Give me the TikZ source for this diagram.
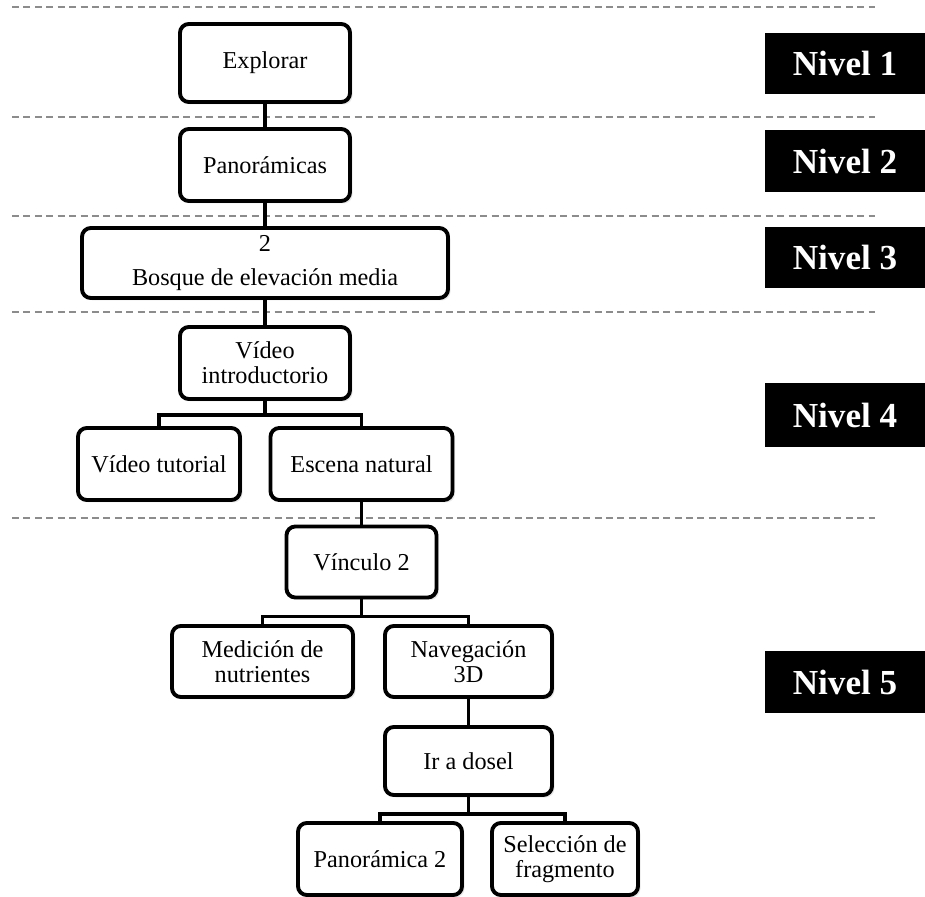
\documentclass[tikz,border=0pt]{standalone}
\usepackage{fontspec}
\setmainfont{Liberation Serif}
\usetikzlibrary{shadows}
\definecolor{RuleGray}{HTML}{8C8C8C}
\definecolor{TagBlack}{HTML}{000000}

\begin{document}
\begin{tikzpicture}[font=\fontsize{13.8}{14.2}\selectfont,
  menubox/.style={draw=black,line width=2.2pt,rounded corners=5pt,fill=white,
    align=center,inner sep=0pt,drop shadow={shadow xshift=0.05cm,shadow yshift=-0.05cm,opacity=0.18}},
  link/.style={line width=1.9pt},
  levelrule/.style={RuleGray,line width=0.6pt,dash pattern=on 4pt off 2.5pt},
  leveltag/.style={fill=TagBlack,text=white,inner sep=0pt,minimum width=3.2cm,
    font=\fontsize{20}{22}\selectfont\bfseries}]
\useasboundingbox (0,0) rectangle (18.5,17.92);
% level separators
\foreach \y in {17.78,15.58,13.60,11.68,7.56} {\draw[levelrule] (0.24,\y) -- (17.50,\y);}
% level tags
\node[leveltag,minimum height=1.22cm] (lvA) at (16.90,16.65) {Nivel 1};
\node[leveltag,minimum height=1.24cm] (lvB) at (16.90,14.70) {Nivel 2};
\node[leveltag,minimum height=1.22cm] (lvC) at (16.90,12.77) {Nivel 3};
\node[leveltag,minimum height=1.28cm] (lvD) at (16.90,9.62) {Nivel 4};
\node[leveltag,minimum height=1.24cm] (lvE) at (16.90,4.28) {Nivel 5};
% menu tree
\node[menubox,minimum width=3.40cm,minimum height=1.56cm] (explorar) at (5.30,16.66) {Explorar};
\node[menubox,minimum width=3.40cm,minimum height=1.44cm] (panoramicas) at (5.30,14.62) {Panorámicas};
\node[menubox,minimum width=7.32cm,minimum height=1.40cm] (bosque) at (5.30,12.66) {2\\[5pt]Bosque de elevación media};
\node[menubox,minimum width=3.40cm,minimum height=1.44cm] (intro) at (5.30,10.66) {Vídeo\\introductorio};
\node[menubox,minimum width=3.24cm,minimum height=1.44cm] (tutorial) at (3.18,8.64) {Vídeo tutorial};
\node[menubox,minimum width=3.64cm,minimum height=1.44cm] (escena) at (7.23,8.64) {Escena natural};
\node[menubox,minimum width=3.00cm,minimum height=1.42cm] (vinculo) at (7.23,6.68) {Vínculo 2};
\node[menubox,minimum width=3.62cm,minimum height=1.42cm] (medicion) at (5.25,4.69) {Medición de\\nutrientes};
\node[menubox,minimum width=3.34cm,minimum height=1.42cm] (navegacion) at (9.37,4.69) {Navegación\\3D};
\node[menubox,minimum width=3.34cm,minimum height=1.36cm] (dosel) at (9.37,2.70) {Ir a dosel};
\node[menubox,minimum width=3.28cm,minimum height=1.44cm] (pano2) at (7.60,0.74) {Panorámica 2};
\node[menubox,minimum width=2.92cm,minimum height=1.44cm] (fragmento) at (11.30,0.74) {Selección de\\fragmento};
% connectors
\draw[link] (explorar) -- (panoramicas);
\draw[link] (panoramicas) -- (bosque);
\draw[link] (bosque) -- (intro);
\draw[link] (intro.south) -- ++(0,-0.28) -| (tutorial.north);
\draw[link] (intro.south) -- ++(0,-0.28) -| (escena.north);
\draw[link] (escena) -- (vinculo);
\draw[link] (vinculo.south) -- ++(0,-0.34) -| (medicion.north);
\draw[link] (vinculo.south) -- ++(0,-0.34) -| (navegacion.north);
\draw[link] (navegacion) -- (dosel);
\draw[link] (dosel.south) -- ++(0,-0.34) -| (pano2.north);
\draw[link] (dosel.south) -- ++(0,-0.34) -| (fragmento.north);
\end{tikzpicture}
\end{document}
